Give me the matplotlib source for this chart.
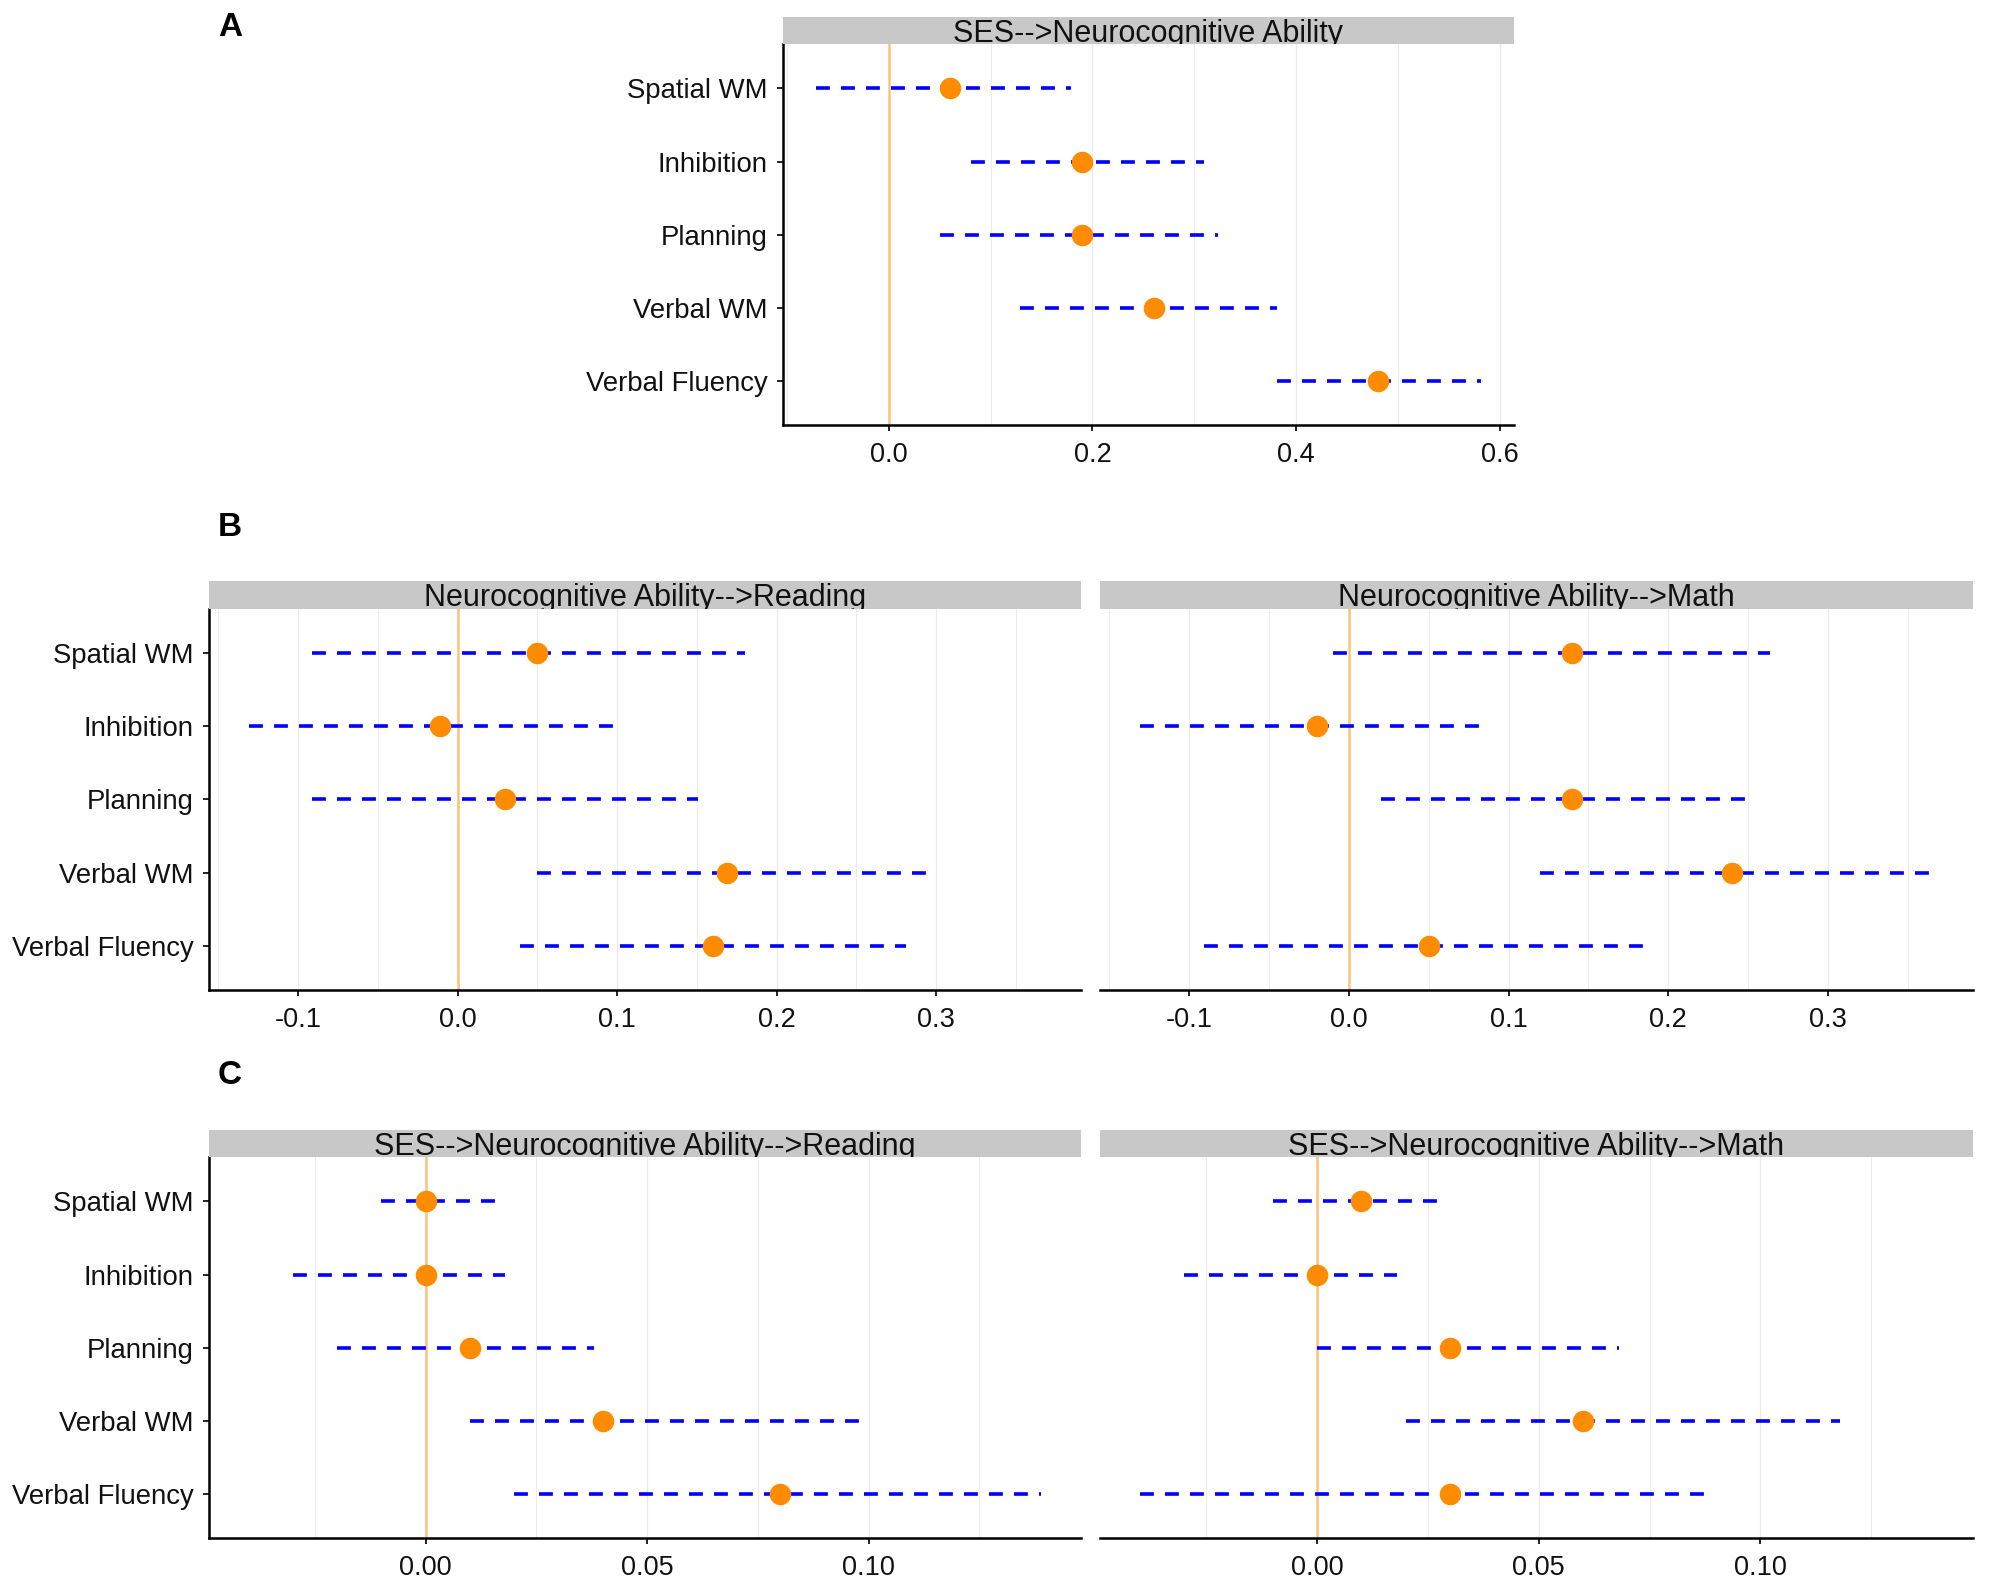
import matplotlib
matplotlib.use('Agg')
import matplotlib.pyplot as plt
import numpy as np

plt.rcParams['font.family'] = ['Liberation Sans', 'DejaVu Sans']
plt.rcParams['lines.scale_dashes'] = False

categories = ['Spatial WM', 'Inhibition', 'Planning', 'Verbal WM', 'Verbal Fluency']

# Panel A: SES --> Neurocognitive Ability
a_lo = [-0.071, 0.081, 0.050, 0.129, 0.381]
a_est = [0.060, 0.190, 0.190, 0.260, 0.480]
a_hi = [0.179, 0.309, 0.323, 0.381, 0.581]

# Panel B left: Neurocognitive Ability --> Reading
br_lo = [-0.091, -0.131, -0.091, 0.050, 0.039]
br_est = [0.050, -0.011, 0.030, 0.169, 0.160]
br_hi = [0.180, 0.100, 0.151, 0.297, 0.281]

# Panel B right: Neurocognitive Ability --> Math
bm_lo = [-0.010, -0.131, 0.020, 0.120, -0.091]
bm_est = [0.140, -0.020, 0.140, 0.240, 0.050]
bm_hi = [0.264, 0.087, 0.251, 0.366, 0.184]

# Panel C left: SES --> Neurocognitive Ability --> Reading
cr_lo = [-0.010, -0.030, -0.020, 0.010, 0.020]
cr_est = [0.000, 0.000, 0.010, 0.040, 0.080]
cr_hi = [0.018, 0.018, 0.038, 0.098, 0.139]

# Panel C right: SES --> Neurocognitive Ability --> Math
cm_lo = [-0.010, -0.030, 0.000, 0.020, -0.040]
cm_est = [0.010, 0.000, 0.030, 0.060, 0.030]
cm_hi = [0.028, 0.018, 0.068, 0.118, 0.089]

a_ticks = [0.0, 0.2, 0.4, 0.6]
a_ticklabels = ['0.0', '0.2', '0.4', '0.6']
a_minor = [-0.1, 0.1, 0.3, 0.5]
b_ticks = [-0.1, 0.0, 0.1, 0.2, 0.3]
b_ticklabels = ['-0.1', '0.0', '0.1', '0.2', '0.3']
b_minor = [-0.15, -0.05, 0.05, 0.15, 0.25, 0.35]
c_ticks = [0.0, 0.05, 0.10]
c_ticklabels = ['0.00', '0.05', '0.10']
c_minor = [-0.025, 0.025, 0.075, 0.125]

W, H = 1990, 1586
fig = plt.figure(figsize=(W / 100, H / 100), dpi=100)


def rect(l, t, r, b):
    return [l / W, 1 - b / H, (r - l) / W, (b - t) / H]


def expand(*arrs):
    lo = min(min(a) for a in arrs)
    hi = max(max(a) for a in arrs)
    d = (hi - lo) * 0.05
    return (lo - d, hi + d)


def panel(l, r, strip_t, t, b, title, lo, est, hi, xlim, ticks, ticklabels, minor, show_y):
    ax = fig.add_axes(rect(l, t, r, b))
    n = len(categories)
    ypos = np.arange(n, 0, -1)
    for x in list(ticks) + list(minor):
        if xlim[0] < x < xlim[1]:
            ax.axvline(x, color='#EBEBEB', lw=1.0 if x in ticks else 0.7, zorder=0)
    ax.axvline(0, color='#FBC27A', lw=1.8, zorder=1)
    ax.hlines(ypos, lo, hi, colors='#0000FF', linestyles=(0, (10, 8)), lw=2.6, zorder=2)
    ax.plot(est, ypos, 'o', color='#FF8C00', ms=15.5, mec='none', zorder=3)
    ax.set_xlim(*xlim)
    ax.set_ylim(0.4, n + 0.6)
    ax.set_xticks(ticks)
    ax.set_xticklabels(ticklabels)
    ax.spines['top'].set_visible(False)
    ax.spines['right'].set_visible(False)
    ax.spines['bottom'].set_linewidth(1.8)
    ax.spines['left'].set_linewidth(1.8)
    ax.tick_params(axis='x', length=4.5, width=1.3, pad=8, labelsize=19.5, colors='#111111')
    if show_y:
        ax.set_yticks(ypos)
        ax.set_yticklabels(categories)
        ax.tick_params(axis='y', length=4.5, width=1.3, pad=6.5, labelsize=19.8, colors='#111111')
    else:
        ax.spines['left'].set_visible(False)
        ax.set_yticks([])
    ax.set_facecolor('white')
    sax = fig.add_axes(rect(l, strip_t, r, t))
    sax.set_facecolor('#C8C8C8')
    sax.set_xticks([])
    sax.set_yticks([])
    for s in sax.spines.values():
        s.set_visible(False)
    sax.text(0.5, 0.09, title, ha='center', va='baseline', fontsize=22,
             color='#111111', transform=sax.transAxes, clip_on=True)
    return ax


xa = expand(a_lo, a_hi)
xb = expand(br_lo, br_hi, bm_lo, bm_hi)
xc = expand(cr_lo, cr_hi, cm_lo, cm_hi)

panel(783, 1514, 16.5, 44.4, 425, 'SES-->Neurocognitive Ability',
      a_lo, a_est, a_hi, xa, a_ticks, a_ticklabels, a_minor, True)
panel(209, 1081, 581, 609, 990, 'Neurocognitive Ability-->Reading',
      br_lo, br_est, br_hi, xb, b_ticks, b_ticklabels, b_minor, True)
panel(1100, 1973, 581, 609, 990, 'Neurocognitive Ability-->Math',
      bm_lo, bm_est, bm_hi, xb, b_ticks, b_ticklabels, b_minor, False)
panel(209, 1081, 1129.5, 1157.4, 1538, 'SES-->Neurocognitive Ability-->Reading',
      cr_lo, cr_est, cr_hi, xc, c_ticks, c_ticklabels, c_minor, True)
panel(1100, 1973, 1129.5, 1157.4, 1538, 'SES-->Neurocognitive Ability-->Math',
      cm_lo, cm_est, cm_hi, xc, c_ticks, c_ticklabels, c_minor, False)

for lab, (x, y) in zip(['A', 'B', 'C'], [(230, 28), (230, 528), (230, 1076)]):
    fig.text(x / W, 1 - y / H, lab, fontsize=24, fontweight='bold', ha='center', va='center')

fig.savefig('out.png', dpi=100, facecolor='white')
